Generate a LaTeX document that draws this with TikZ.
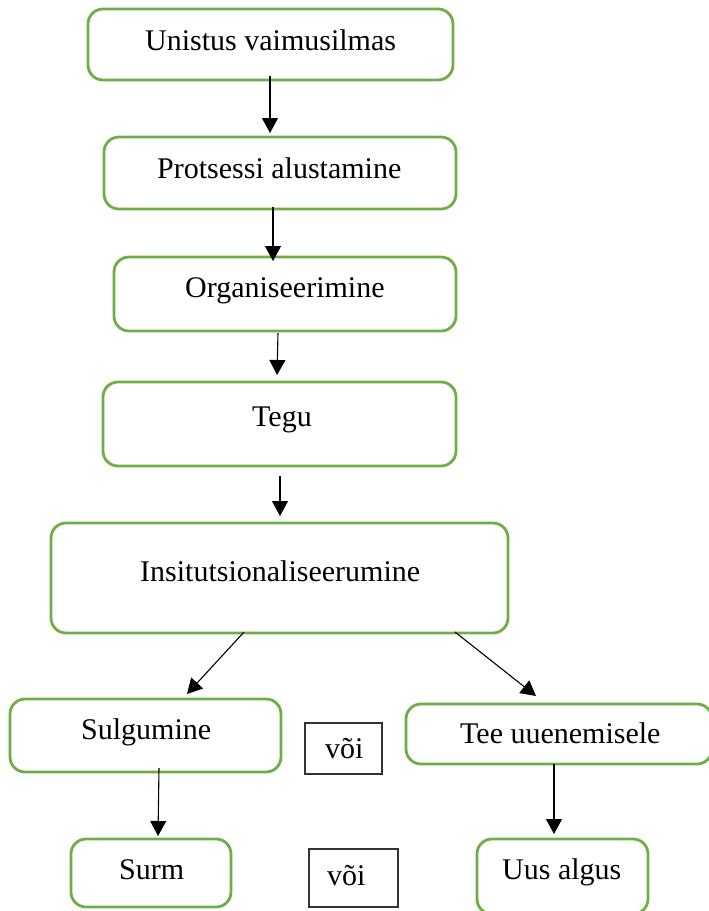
\documentclass[tikz,border=0pt]{standalone}
\usepackage{fontspec}
\setmainfont{Liberation Serif}
\usetikzlibrary{arrows.meta}
\definecolor{boxgreen}{HTML}{70AD47}
\tikzset{
  gbox/.style={draw=boxgreen, line width=2.8pt, rounded corners=15pt, inner sep=0pt},
  obox/.style={draw=black!80, line width=1.1pt, inner sep=0pt},
  txt/.style={anchor=base west, inner sep=0pt, font=\fontsize{30}{36}\selectfont},
  arr/.style={draw=black, line width=1.1pt, -{Triangle[width=16pt,length=15pt]}}
}
\begin{document}
\begin{tikzpicture}[x=1pt,y=-1pt]
\useasboundingbox (0,0) rectangle (709,911);
% boxes
\node[gbox, minimum width=365pt, minimum height=71pt] (b1) at (270.5,44.5) {};
\node[gbox, minimum width=352pt, minimum height=72pt] (b2) at (280,173) {};
\node[gbox, minimum width=342pt, minimum height=74pt] (b3) at (285,294) {};
\node[gbox, minimum width=353pt, minimum height=84pt] (b4) at (279.5,424) {};
\node[gbox, minimum width=457pt, minimum height=110pt] (b5) at (279.5,578) {};
\node[gbox, minimum width=271pt, minimum height=73pt] (b6) at (145.5,735.5) {};
\node[gbox, minimum width=306pt, minimum height=60pt] (b7) at (559,734) {};
\node[gbox, minimum width=160pt, minimum height=68pt] (b8) at (151,873) {};
\node[gbox, minimum width=171pt, minimum height=75pt] (b9) at (562.5,876.5) {};
\node[obox, minimum width=77pt, minimum height=51pt] (v1) at (343.5,748.5) {};
\node[obox, minimum width=89pt, minimum height=58pt] (v2) at (353.5,878) {};
% texts
\node[txt] (t1) at (145,50) {Unistus vaimusilmas};
\node[txt] (t2) at (157,178) {Protsessi alustamine};
\node[txt] (t3) at (185,297) {Organiseerimine};
\node[txt] (t4) at (252,426) {Tegu};
\node[txt] (t5) at (140,581) {Insitutsionaliseerumine};
\node[txt] (t6) at (81,739) {Sulgumine};
\node[txt] (t7) at (460,743) {Tee uuenemisele};
\node[txt] (t8) at (119,879) {Surm};
\node[txt] (t9) at (502,879) {Uus algus};
\node[txt] (tv1) at (325,758) {või};
\node[txt] (tv2) at (327,885) {või};
% connector end points
\coordinate (a1s) at (270,76);  \coordinate (a1e) at (270,133);
\coordinate (a2s) at (273,207); \coordinate (a2e) at (273,261);
\coordinate (a3s) at (278,333); \coordinate (a3e) at (277,375);
\coordinate (a4s) at (280,476); \coordinate (a4e) at (280,516);
\coordinate (a5s) at (244,632); \coordinate (a5e) at (187,694);
\coordinate (a6s) at (455,632); \coordinate (a6e) at (536,696);
\coordinate (a7s) at (159,768); \coordinate (a7e) at (158,836);
\coordinate (a8s) at (554,764); \coordinate (a8e) at (554,834);
\draw[arr] (a1s) -- (a1e);
\draw[arr] (a2s) -- (a2e);
\draw[arr] (a3s) -- (a3e);
\draw[arr] (a4s) -- (a4e);
\draw[arr] (a5s) -- (a5e);
\draw[arr] (a6s) -- (a6e);
\draw[arr] (a7s) -- (a7e);
\draw[arr] (a8s) -- (a8e);
\end{tikzpicture}
\end{document}
